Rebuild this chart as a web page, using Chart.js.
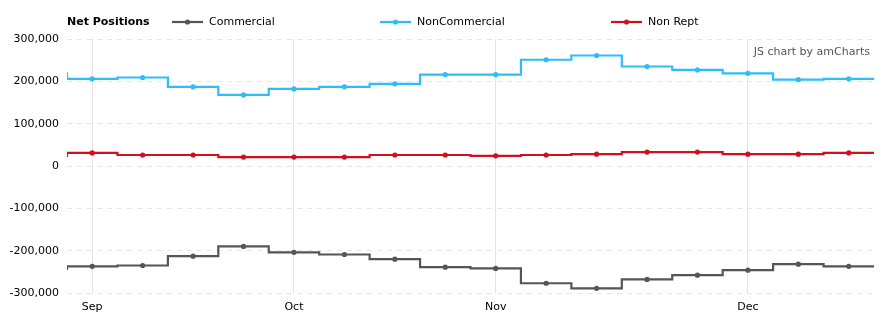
<!DOCTYPE html>
<html>
<head>
<meta charset="utf-8">
<script src="https://cdn.jsdelivr.net/npm/chart.js@4"></script>
<style>
  html, body { margin: 0; padding: 0; background: #fff; }
  #wrap { position: relative; width: 890px; height: 328px; }
</style>
</head>
<body>
<div id="wrap"><canvas id="c" width="890" height="328"></canvas></div>
<script>
// Weekly report dates (first one is the week before the visible range)
const dates = ['2016-08-30','2016-09-06','2016-09-13','2016-09-20','2016-09-27',
  '2016-10-04','2016-10-11','2016-10-18','2016-10-25','2016-11-01','2016-11-08',
  '2016-11-15','2016-11-22','2016-11-29','2016-12-06','2016-12-13','2016-12-20'];
const monthNames = ['Jan','Feb','Mar','Apr','May','Jun','Jul','Aug','Sep','Oct','Nov','Dec'];

const commercial    = [-243000,-237000,-235000,-213000,-190000,-204000,-209000,-220000,-239000,-242000,-277000,-289000,-268000,-258000,-246000,-232000,-237000];
const nonCommercial = [ 219000, 206000, 209000, 187000, 168000, 182000, 187000, 194000, 216000, 216000, 251000, 261000, 235000, 227000, 219000, 204000, 206000];
const nonRept       = [  24000,  31000,  26000,  26000,  21000,  21000,  21000,  26000,  26000,  24000,  26000,  28000,  33000,  33000,  28000,  28000,  31000];

const seriesNames  = ['Commercial','NonCommercial','Non Rept'];
const seriesColors = ['#555555','#2fbdf7','#d0101f'];
const legendTitle  = 'Net Positions';
const watermark    = 'JS chart by amCharts';
const yTicks = [-300000,-200000,-100000,0,100000,200000,300000];

const FONT = 'DejaVu Sans';

// each weekly value spans one period; the last period ends half a week after its point
function toPoints(vals) {
  const pts = vals.map((v, i) => ({ x: i, y: v }));
  pts.push({ x: vals.length - 0.5, y: vals[vals.length - 1] });
  return pts;
}
const monthOf = d => parseInt(d.slice(5, 7), 10) - 1;
const monthTickIdx = dates.map((d, i) => i).filter(i => i > 0 && monthOf(dates[i]) !== monthOf(dates[i - 1]));

function ds(label, vals, color) {
  const n = vals.length;
  return {
    label, data: toPoints(vals),
    borderColor: color, backgroundColor: color,
    borderWidth: 2.2, stepped: 'middle', tension: 0,
    pointRadius: ctx => ctx.dataIndex >= n ? 0 : 2.6,
    pointBorderWidth: 0, pointHoverRadius: 0,
    fill: false, clip: 0
  };
}

const legendPlugin = {
  id: 'customLegend',
  afterDraw(chart) {
    const ctx = chart.ctx;
    ctx.save();
    ctx.textBaseline = 'middle';
    ctx.fillStyle = '#000';
    ctx.font = 'bold 11px "' + FONT + '"';
    ctx.textAlign = 'left';
    ctx.fillText(legendTitle, 67, 22);
    const xs = [172, 380, 611];
    chart.data.datasets.forEach((d, i) => {
      const x0 = xs[i];
      ctx.strokeStyle = d.borderColor;
      ctx.lineWidth = 2.2;
      ctx.beginPath(); ctx.moveTo(x0, 22); ctx.lineTo(x0 + 31, 22); ctx.stroke();
      ctx.fillStyle = d.borderColor;
      ctx.beginPath(); ctx.arc(x0 + 15.5, 22, 2.6, 0, Math.PI * 2); ctx.fill();
      ctx.fillStyle = '#000';
      ctx.font = '11px "' + FONT + '"';
      ctx.fillText(d.label, x0 + 37, 22);
    });
    ctx.fillStyle = '#555';
    ctx.font = '11px "' + FONT + '"';
    ctx.textAlign = 'right';
    ctx.fillText(watermark, 870, 52);
    ctx.restore();
  }
};

new Chart(document.getElementById('c'), {
  type: 'line',
  data: {
    datasets: [
      ds(seriesNames[0], commercial, seriesColors[0]),
      ds(seriesNames[1], nonCommercial, seriesColors[1]),
      ds(seriesNames[2], nonRept, seriesColors[2])
    ]
  },
  options: {
    responsive: false, animation: false,
    layout: { padding: { top: 39, right: 16, left: 0, bottom: 0 } },
    plugins: { legend: { display: false }, tooltip: { enabled: false } },
    scales: {
      x: {
        type: 'linear', min: 0.5, max: dates.length - 0.5,
        afterBuildTicks: s => { s.ticks = monthTickIdx.map(v => ({ value: v })); },
        afterFit: s => { s.height = 35; },
        ticks: {
          autoSkip: false, maxRotation: 0, padding: 8,
          color: '#000', font: { family: FONT, size: 11 },
          callback: v => monthNames[monthOf(dates[v])]
        },
        grid: { color: '#e3e3e3', lineWidth: 1, drawTicks: false },
        border: { display: false }
      },
      y: {
        min: -300000, max: 300000,
        afterBuildTicks: s => { s.ticks = yTicks.map(v => ({ value: v })); },
        afterFit: s => { s.width = 67; },
        ticks: {
          padding: 8, color: '#000', font: { family: FONT, size: 11 },
          callback: v => v.toLocaleString('en-US')
        },
        grid: { color: '#e6e6e6', lineWidth: 1, drawTicks: false },
        border: { display: false, dash: [5, 5] }
      }
    }
  },
  plugins: [legendPlugin]
});
</script>
</body>
</html>
